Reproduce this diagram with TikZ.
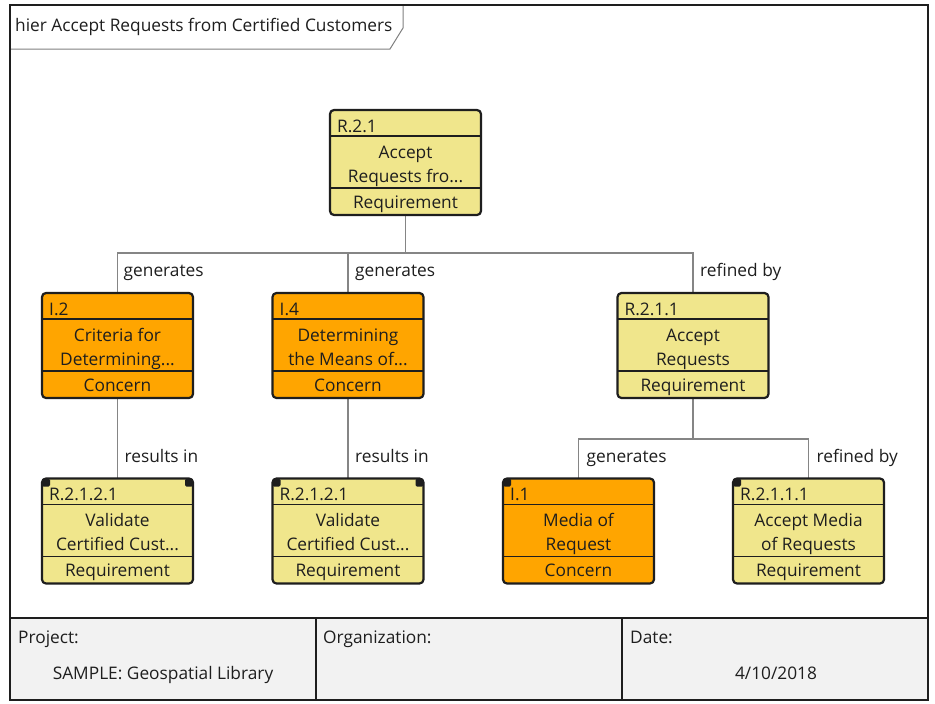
\documentclass[tikz,border=0pt]{standalone}
\usepackage{fontspec}
\setmainfont{Open Sans}
\definecolor{reqyellow}{HTML}{F0E68C}
\definecolor{conorange}{HTML}{FFA500}
\definecolor{tablegray}{HTML}{F2F2F2}
\definecolor{connc}{HTML}{858585}
\definecolor{ink}{HTML}{1E1E1E}
\tikzset{
 box/.style={draw=ink, line width=2.2pt, rounded corners=4pt, minimum width=151pt, minimum height=105pt, inner sep=0pt, outer sep=0pt},
 divl/.style={draw=ink, line width=1.3pt},
 txt/.style={font=\fontsize{17.3}{20}\selectfont, text=ink, inner sep=0pt},
 conn/.style={draw=connc, line width=1.8pt},
 lbl/.style={txt, anchor=base west},
 cornermark/.style={fill=ink, rounded corners=1.5pt},
}
\newcommand{\rbox}[7]{%
 \node[box, fill=#3] (#1) at (#2) {};
 \draw[divl] ([yshift=-26pt]#1.north west) -- ([yshift=-26pt]#1.north east);
 \draw[divl] ([yshift=27pt]#1.south west) -- ([yshift=27pt]#1.south east);
 \node[txt, anchor=base west] (#1-id) at ([xshift=7pt, yshift=-22pt]#1.north west) {#4};
 \node[txt, anchor=base] (#1-la) at ([yshift=-48pt]#1.north) {#5};
 \node[txt, anchor=base] (#1-lb) at ([yshift=-72pt]#1.north) {#6};
 \node[txt, anchor=base] (#1-ty) at ([yshift=-98pt]#1.north) {#7};
}
\begin{document}
\begin{tikzpicture}[x=1pt, y=-1pt]
\useasboundingbox (0,0) rectangle (935,704);
\fill[white] (0,0) rectangle (935,704);
% bottom table
\draw[ink, line width=1.5pt, fill=tablegray] (10,618) rectangle (928,700);
\draw[ink, line width=1.5pt] (316,618) -- (316,700);
\draw[ink, line width=1.5pt] (622,618) -- (622,700);
\node[txt, anchor=base west] (proj) at (18,643) {Project:};
\node[txt, anchor=base] (projv) at (163,679) {SAMPLE: Geospatial Library};
\node[txt, anchor=base west] (org) at (323,643) {Organization:};
\node[txt, anchor=base west] (date) at (630,643) {Date:};
\node[txt, anchor=base] (datev) at (776,679) {4/10/2018};
% title tab
\draw[draw=gray, line width=1pt, fill=white] (10,5) -- (403,5) -- (403,28) -- (390,49) -- (10,49) -- cycle;
\node[txt, anchor=base west] (title) at (15,31) {hier Accept Requests from Certified Customers};
% node positions (boxes drawn after connectors)
\coordinate (ptop) at (405.5,162.5);
\coordinate (pi2) at (117.5,345.5);
\coordinate (pi4) at (348,345.5);
\coordinate (pr211) at (693,345.5);
\coordinate (pra) at (117.5,531);
\coordinate (prb) at (348,531);
\coordinate (pi1) at (578.5,531);
\coordinate (pr2111) at (808.5,531);
\node[box, draw=none] (top) at (ptop) {};
\node[box, draw=none] (i2) at (pi2) {};
\node[box, draw=none] (i4) at (pi4) {};
\node[box, draw=none] (r211) at (pr211) {};
\node[box, draw=none] (ra) at (pra) {};
\node[box, draw=none] (rb) at (prb) {};
\node[box, draw=none] (i1) at (pi1) {};
\node[box, draw=none] (r2111) at (pr2111) {};
% connectors
\coordinate (j1) at ([yshift=-38pt]top.south);
\coordinate (j2) at ([yshift=-41pt]r211.south);
\draw[conn] (top.south) -- (j1) -| (i2.north);
\draw[conn] (top.south) -- (j1) -| (i4.north);
\draw[conn] (top.south) -- (j1) -| (r211.north);
\draw[conn] (i2.south) -- (ra.north);
\draw[conn] (i4.south) -- (rb.north);
\draw[conn] (r211.south) -- (j2) -| (i1.north);
\draw[conn] (r211.south) -- (j2) -| (r2111.north);
\node[lbl] (lg1) at ([xshift=6pt, yshift=17pt]i2.north) {generates};
\node[lbl] (lg2) at ([xshift=7pt, yshift=17pt]i4.north) {generates};
\node[lbl] (lr1) at ([xshift=7pt, yshift=17pt]r211.north) {refined by};
\node[lbl] (lres1) at ([xshift=7pt, yshift=16pt]ra.north) {results in};
\node[lbl] (lres2) at ([xshift=7pt, yshift=16pt]rb.north) {results in};
\node[lbl] (lg3) at ([xshift=8pt, yshift=16pt]i1.north) {generates};
\node[lbl] (lr2) at ([xshift=8pt, yshift=16pt]r2111.north) {refined by};
% boxes
\rbox{btop}{ptop}{reqyellow}{R.2.1}{Accept}{Requests fro...}{Requirement}
\rbox{bi2}{pi2}{conorange}{I.2}{Criteria for}{Determining...}{Concern}
\rbox{bi4}{pi4}{conorange}{I.4}{Determining}{the Means of...}{Concern}
\rbox{br211}{pr211}{reqyellow}{R.2.1.1}{Accept}{Requests}{Requirement}
\rbox{bra}{pra}{reqyellow}{R.2.1.2.1}{Validate}{Certified Cust...}{Requirement}
\rbox{brb}{prb}{reqyellow}{R.2.1.2.1}{Validate}{Certified Cust...}{Requirement}
\rbox{bi1}{pi1}{conorange}{I.1}{Media of}{Request}{Concern}
\rbox{br2111}{pr2111}{reqyellow}{R.2.1.1.1}{Accept Media}{of Requests}{Requirement}
% corner marks
\fill[cornermark] (bra.north west) rectangle ++(8pt,-8pt);
\fill[cornermark] (bra.north east) rectangle ++(-8pt,-8pt);
\fill[cornermark] (brb.north west) rectangle ++(8pt,-8pt);
\fill[cornermark] (brb.north east) rectangle ++(-8pt,-8pt);
\fill[cornermark] (bi1.north west) rectangle ++(8pt,-8pt);
\fill[cornermark] (br2111.north west) rectangle ++(8pt,-8pt);
% outer frame
\draw[ink, line width=2pt] (10,5) rectangle (928,700);
\end{tikzpicture}
\end{document}
